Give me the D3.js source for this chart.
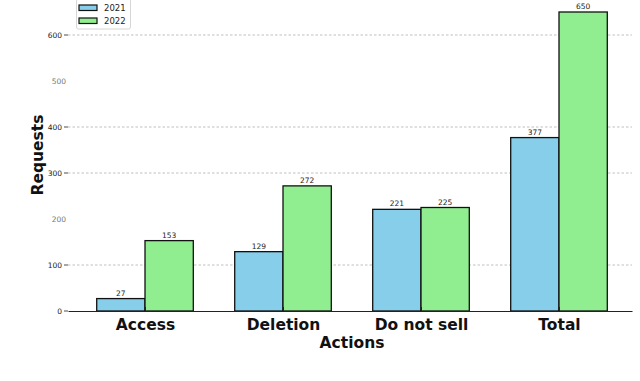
<!DOCTYPE html>
<html><head><meta charset="utf-8">
<script src="https://cdn.jsdelivr.net/npm/d3@7"></script>
<style>body{margin:0;background:#fff}svg{display:block}</style>
</head><body>
<svg id="c" width="640" height="381"></svg>
<script>
const categories = ["Access", "Deletion", "Do not sell", "Total"];
const values2021 = [27, 129, 221, 377];
const values2022 = [153, 272, 225, 650];
const seriesNames = ["2021", "2022"];
const yTicks = [0, 100, 200, 300, 400, 500, 600];
const faintTicks = [200, 500];

const svg = d3.select("#c");
const font = "DejaVu Sans, sans-serif";
const x = d3.scaleLinear().domain([-0.558, 3.529]).range([68, 632]);
const y = d3.scaleLinear().domain([0, 600]).range([311, 35]);
const barW = 0.35;
const colors = ["#87CEEB", "#90EE90"];

// grid
svg.append("g").selectAll("line").data(yTicks.filter(t => t > 0 && !faintTicks.includes(t))).join("line")
  .attr("x1", 68).attr("x2", 632).attr("y1", d => y(d)).attr("y2", d => y(d))
  .attr("stroke", "#b0b0b0").attr("stroke-width", 0.8).attr("stroke-dasharray", "2.5,2");

// bars
const series = [values2021, values2022];
series.forEach((vals, s) => {
  const g = svg.append("g");
  g.selectAll("rect").data(vals).join("rect")
    .attr("x", (d, i) => x(i + (s === 0 ? -barW : 0)))
    .attr("width", x(barW) - x(0))
    .attr("y", d => y(d))
    .attr("height", d => y(0) - y(d))
    .attr("fill", colors[s]).attr("stroke", "#111").attr("stroke-width", 1.3);
  g.selectAll("text").data(vals).join("text")
    .attr("x", (d, i) => x(i + (s === 0 ? -barW / 2 : barW / 2)))
    .attr("y", d => y(d) - 3)
    .attr("text-anchor", "middle").attr("font-family", font).attr("font-size", 7.5).attr("fill", "#222")
    .text(d => d);
});

// y axis (no spine)
const ya = svg.append("g");
ya.selectAll("line").data(yTicks.filter(t => !faintTicks.includes(t))).join("line")
  .attr("x1", 64).attr("x2", 68).attr("y1", d => y(d)).attr("y2", d => y(d)).attr("stroke", "#222").attr("stroke-width", 0.8);
ya.selectAll("text").data(yTicks).join("text")
  .attr("x", d => faintTicks.includes(d) ? 66 : 62).attr("y", d => y(d) + 2.5)
  .attr("text-anchor", "end").attr("font-family", font).attr("font-size", 7.5)
  .attr("fill", d => faintTicks.includes(d) ? "#777" : "#222")
  .text(d => d);

// x axis
const xAxis = d3.axisBottom(x).tickValues(d3.range(categories.length)).tickFormat(i => categories[i]).tickSize(4).tickSizeOuter(0);
const xa = svg.append("g").attr("transform", "translate(0,311)").call(xAxis);
xa.select(".domain").attr("stroke", "#222").attr("stroke-width", 1.2);
xa.selectAll(".tick line").attr("stroke", "#222").attr("y1", -4).attr("y2", 0);
xa.selectAll(".tick text").attr("font-family", font).attr("font-size", 15.5).attr("font-weight", "bold").attr("fill", "#111").attr("dy", "0").attr("y", 18.5);

// axis titles
svg.append("text").attr("x", 352).attr("y", 347.5).attr("text-anchor", "middle")
  .attr("font-family", font).attr("font-size", 15.5).attr("font-weight", "bold").attr("fill", "#111").text("Actions");
svg.append("text").attr("transform", "translate(43,155) rotate(-90)").attr("text-anchor", "middle")
  .attr("font-family", font).attr("font-size", 15.5).attr("font-weight", "bold").attr("fill", "#111").text("Requests");

// legend
const lg = svg.append("g");
lg.append("rect").attr("x", 76.5).attr("y", -1).attr("width", 54).attr("height", 30).attr("rx", 2)
  .attr("fill", "#fff").attr("stroke", "#ccc").attr("stroke-width", 0.8);
seriesNames.forEach((n, i) => {
  lg.append("rect").attr("x", 79).attr("y", 5 + i * 13).attr("width", 18).attr("height", 5.5)
    .attr("fill", colors[i]).attr("stroke", "#111").attr("stroke-width", 1.2);
  lg.append("text").attr("x", 104).attr("y", 11 + i * 13).attr("font-family", font).attr("font-size", 8.5).attr("fill", "#222").text(n);
});
</script>
</body></html>
